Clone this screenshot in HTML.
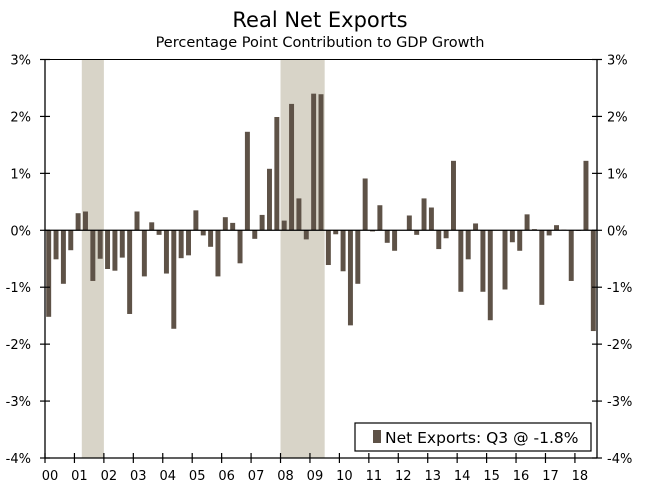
<!DOCTYPE html>
<html><head><meta charset="utf-8"><style>
body{margin:0;background:#fff;}
svg{display:block;font-family:"DejaVu Sans","Liberation Sans",sans-serif;}
</style></head><body>
<svg id="chart" width="655" height="493" viewBox="0 0 655 493" xmlns="http://www.w3.org/2000/svg">
<text x="320" y="27" font-size="21" text-anchor="middle" fill="#000">Real Net Exports</text>
<text x="320" y="47" font-size="14.5" text-anchor="middle" fill="#000">Percentage Point Contribution to GDP Growth</text>
<g id="rec"></g>
<g id="bars"></g>
<g id="axes"></g>
<g>
<rect x="355" y="423" width="236" height="28" fill="#fff" stroke="#000" stroke-width="1.2"/>
<rect x="373" y="430" width="8" height="13" fill="#5e5247"/>
<text x="385" y="443" font-size="15.5" fill="#000">Net Exports: Q3 @ -1.8%</text>
</g>
</svg>
<script>
const values=[-1.52,-0.51,-0.94,-0.35,0.30,0.33,-0.89,-0.50,-0.68,-0.71,-0.48,-1.47,0.33,-0.81,0.14,-0.08,-0.76,-1.73,-0.49,-0.44,0.35,-0.09,-0.29,-0.81,0.23,0.13,-0.58,1.73,-0.15,0.27,1.08,1.99,0.17,2.22,0.56,-0.16,2.40,2.39,-0.61,-0.07,-0.72,-1.67,-0.94,0.91,-0.02,0.44,-0.22,-0.36,0.0,0.26,-0.08,0.56,0.40,-0.33,-0.14,1.22,-1.08,-0.51,0.12,-1.08,-1.58,0.0,-1.04,-0.21,-0.36,0.28,0.02,-1.31,-0.09,0.09,0.01,-0.89,-0.01,1.22,-1.77];
const yearLabels=["00","01","02","03","04","05","06","07","08","09","10","11","12","13","14","15","16","17","18"];
const yTicks=[3,2,1,0,-1,-2,-3,-4];
const recessions=[[5,8],[32,38]];
const NS="http://www.w3.org/2000/svg";
const L=45,R=597,T=59.5,B=458,ymax=3,ymin=-4,nQ=75;
const qw=(R-L)/nQ;
const x=i=>L+i*qw;
const y=v=>T+(ymax-v)/(ymax-ymin)*(B-T);
function mk(tag,attrs,parent){const e=document.createElementNS(NS,tag);for(const k in attrs)e.setAttribute(k,attrs[k]);parent.appendChild(e);return e;}
const rec=document.getElementById('rec'),bars=document.getElementById('bars'),ax=document.getElementById('axes');
recessions.forEach(r=>{const e=mk('rect',{x:x(r[0]),y:T,width:x(r[1])-x(r[0]),height:B-T,fill:'#d8d4c8'},rec);

});
values.forEach((v,i)=>{const y0=y(0),y1=y(v);const e=mk('rect',{x:x(i)+1.2,y:Math.min(y0,y1),width:qw-2.4,height:Math.abs(y1-y0),fill:'#5e5247'},bars);

});
mk('line',{x1:L,y1:T,x2:R,y2:T,stroke:'#000','stroke-width':1},ax);
mk('line',{x1:L,y1:T,x2:L,y2:B,stroke:'#000','stroke-width':1.3},ax);
mk('line',{x1:R,y1:T,x2:R,y2:B,stroke:'#000','stroke-width':1.3},ax);
mk('line',{x1:L,y1:y(0),x2:R,y2:y(0),stroke:'#000','stroke-width':1.3},ax);
mk('line',{x1:L,y1:B,x2:R,y2:B,stroke:'#000','stroke-width':1.3},ax);
yTicks.forEach(t=>{const yy=y(t);
mk('line',{x1:L-5,y1:yy,x2:L+5,y2:yy,stroke:'#000','stroke-width':1.2},ax);
mk('line',{x1:R-5,y1:yy,x2:R+5,y2:yy,stroke:'#000','stroke-width':1.2},ax);
const a=mk('text',{x:L-14,y:yy+5,'font-size':13,'text-anchor':'end'},ax);a.textContent=t+'%';


const b=mk('text',{x:R+10,y:yy+5,'font-size':13,'text-anchor':'start'},ax);b.textContent=t+'%';

});
yearLabels.forEach((lab,i)=>{const xx=x(i*4);
mk('line',{x1:xx,y1:B-5,x2:xx,y2:B+5,stroke:'#000','stroke-width':1.2},ax);
const t=mk('text',{x:xx+5,y:B+22,'font-size':13,'text-anchor':'middle'},ax);t.textContent=lab;

});
</script>
</body></html>
